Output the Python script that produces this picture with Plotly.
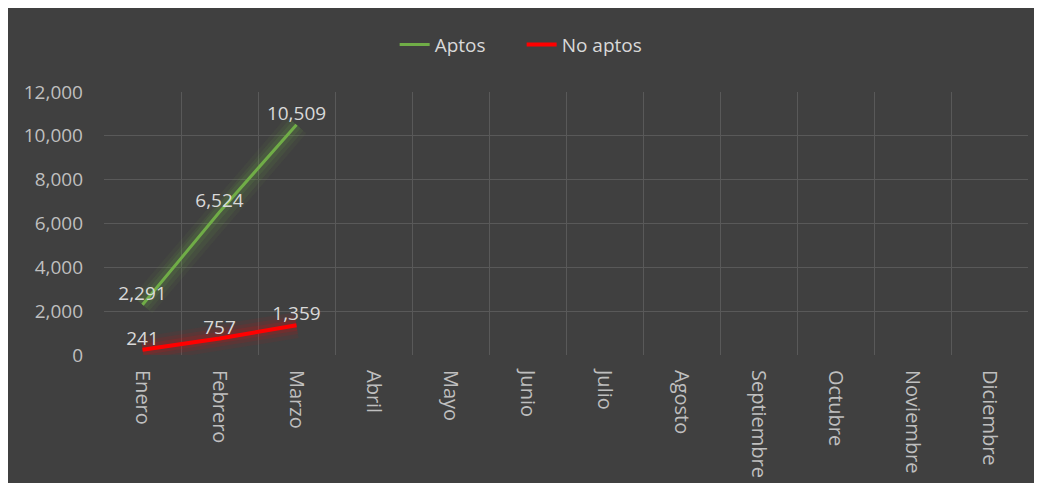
import plotly.graph_objects as go

months = ["Enero", "Febrero", "Marzo", "Abril", "Mayo", "Junio", "Julio",
          "Agosto", "Septiembre", "Octubre", "Noviembre", "Diciembre"]
aptos = [2291, 6524, 10509]
no_aptos = [241, 757, 1359]
y_ticks = [0, 2000, 4000, 6000, 8000, 10000, 12000]

# page body has an 8px margin, so the figure is sized to fill the rest
W, H = 1034, 475
L, R, T, B = 96, 14, 84, 128

fig = go.Figure()

# soft glow layers
for w, a in [(26, 0.06), (18, 0.09), (11, 0.13)]:
    fig.add_trace(go.Scatter(x=months[:len(aptos)], y=aptos, mode="lines",
                             line=dict(color=f"rgba(112,173,71,{a})", width=w),
                             showlegend=False, hoverinfo="skip"))
    fig.add_trace(go.Scatter(x=months[:len(no_aptos)], y=no_aptos, mode="lines",
                             line=dict(color=f"rgba(255,0,0,{a})", width=w),
                             showlegend=False, hoverinfo="skip"))

fig.add_trace(go.Scatter(x=months[:len(aptos)], y=aptos, mode="lines+text",
                         name="Aptos", line=dict(color="#70ad47", width=3),
                         text=[f"{v:,}" for v in aptos], textposition="top center",
                         textfont=dict(size=19, color="#d9d9d9", family="Open Sans")))
fig.add_trace(go.Scatter(x=months[:len(no_aptos)], y=no_aptos, mode="lines+text",
                         name="No aptos", line=dict(color="#ff0000", width=4),
                         text=[f"{v:,}" for v in no_aptos], textposition="top center",
                         textfont=dict(size=19, color="#d9d9d9", family="Open Sans")))

fig.update_layout(
    width=W, height=H,
    margin=dict(l=L, r=R, t=T, b=B, autoexpand=False),
    paper_bgcolor="#404040", plot_bgcolor="#404040",
    font=dict(family="Open Sans", color="#bfbfbf", size=18),
    legend=dict(orientation="h", x=0.452, xanchor="center", y=1.18, yanchor="middle",
                font=dict(size=19, color="#d9d9d9"), bgcolor="rgba(0,0,0,0)",
                itemwidth=30, entrywidth=82, traceorder="normal"),
    showlegend=True,
)
fig.update_xaxes(type="category", categoryorder="array", categoryarray=months,
                 range=[-0.5, 11.5], tickson="boundaries", showgrid=True,
                 gridcolor="#595959", gridwidth=1, tickangle=90, ticks="",
                 ticklabelstandoff=14, automargin=False,
                 zeroline=False, showline=False, tickfont=dict(size=20, color="#bfbfbf"))
fig.update_yaxes(range=[0, 12000], tickvals=y_ticks, tickformat=",",
                 showgrid=True, gridcolor="#595959", gridwidth=1, zeroline=False,
                 showline=False, ticks="", ticklabelstandoff=20, automargin=False,
                 tickfont=dict(size=19, color="#bfbfbf"))

fig.write_html("out.html")
